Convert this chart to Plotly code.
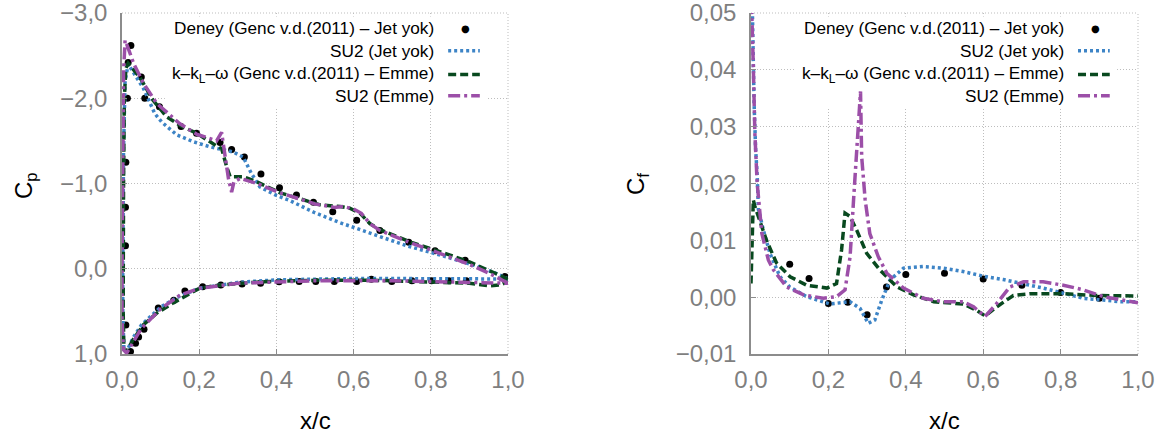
import plotly.graph_objects as go

FONT = "Liberation Sans, Arial, Helvetica, sans-serif"

# ---------------- labels / ticks ----------------
legend_labels = [
    "Deney (Genc v.d.(2011) – Jet yok)",
    "SU2 (Jet yok)",
    "k–k<sub>L</sub>–ω (Genc v.d.(2011) – Emme)",
    "SU2 (Emme)",
]
x_title = "x/c"
cp_title = "C<sub>p</sub>"
cf_title = "C<sub>f</sub>"
x_tick_vals = [0.0, 0.2, 0.4, 0.6, 0.8, 1.0]
cp_tick_vals = [-3, -2, -1, 0, 1]
cf_tick_vals = [-0.01, 0.0, 0.01, 0.02, 0.03, 0.04, 0.05]

# ---------------- Cp data ----------------
cp_exp_x = [0.009, 0.009, 0.010, 0.014, 0.016, 0.023, 0.050, 0.059, 0.097, 0.153,
            0.193, 0.254, 0.284, 0.317, 0.360, 0.408, 0.452, 0.496, 0.546, 0.608,
            0.668, 0.743, 0.811, 0.889, 0.992,
            0.010, 0.022, 0.035, 0.043, 0.057, 0.094, 0.134, 0.163, 0.209, 0.256,
            0.311, 0.359, 0.407, 0.459, 0.502, 0.550, 0.608, 0.646, 0.699, 0.751,
            0.802, 0.847, 0.892]
cp_exp_y = [-0.27, -0.72, -1.25, -2.00, -2.42, -2.62, -2.25, -2.00, -1.90, -1.67,
            -1.59, -1.48, -1.40, -1.31, -1.11, -0.95, -0.865, -0.78, -0.67, -0.57,
            -0.45, -0.31, -0.21, -0.10, 0.09,
            0.66, 0.97, 0.875, 0.80, 0.71, 0.46, 0.37, 0.26, 0.21, 0.19,
            0.18, 0.17, 0.152, 0.15, 0.15, 0.15, 0.15, 0.124, 0.15, 0.14,
            0.14, 0.14, 0.14]

cp_su2_jet_x = [1.0, 0.967, 0.919, 0.833, 0.737, 0.641, 0.565, 0.498, 0.435, 0.4,
                0.357, 0.335, 0.314, 0.288, 0.26, 0.228, 0.185, 0.142, 0.103, 0.085,
                0.055, 0.03, 0.016, 0.008, 0.004, 0.002,
                0.002, 0.005, 0.012, 0.03, 0.05, 0.1, 0.15, 0.2, 0.3, 0.4,
                0.5, 0.6, 0.7, 0.8, 0.9, 1.0]
cp_su2_jet_y = [0.12, 0.05, -0.03, -0.15, -0.27, -0.415, -0.54, -0.66, -0.80, -0.86,
                -0.96, -1.12, -1.31, -1.37, -1.40, -1.43, -1.49, -1.57, -1.72, -1.82,
                -2.12, -2.30, -2.40, -2.2, -1.4, 0.0,
                0.5, 0.95, 0.97, 0.8, 0.66, 0.45, 0.32, 0.23, 0.16, 0.13,
                0.12, 0.115, 0.115, 0.115, 0.12, 0.12]

cp_kkl_x = [1.0, 0.95, 0.9, 0.85, 0.8, 0.75, 0.7, 0.668, 0.642, 0.617,
            0.59, 0.565, 0.513, 0.452, 0.41, 0.349, 0.314, 0.28, 0.271, 0.258,
            0.245, 0.193, 0.155, 0.116, 0.08, 0.047, 0.03, 0.016, 0.010, 0.006,
            0.004, 0.003,
            0.003, 0.005, 0.012, 0.029, 0.055, 0.09, 0.133, 0.2, 0.254, 0.357,
            0.5, 0.65, 0.8, 0.9, 0.95, 0.98, 1.0]
cp_kkl_y = [0.12, 0.02, -0.08, -0.16, -0.23, -0.31, -0.40, -0.46, -0.53, -0.65,
            -0.71, -0.73, -0.75, -0.83, -0.89, -1.02, -1.08, -1.08, -1.20, -1.41,
            -1.44, -1.59, -1.67, -1.78, -1.98, -2.24, -2.33, -2.41, -2.35, -2.0,
            -1.0, 0.0,
            0.5, 0.95, 0.97, 0.83, 0.66, 0.52, 0.40, 0.23, 0.19, 0.155,
            0.135, 0.135, 0.15, 0.17, 0.2, 0.19, 0.15]

cp_su2_emme_x = [1.0, 0.95, 0.9, 0.85, 0.8, 0.75, 0.7, 0.668, 0.642, 0.62,
                 0.6, 0.574, 0.55, 0.5, 0.452, 0.41, 0.35, 0.306, 0.29, 0.284,
                 0.276, 0.27, 0.262, 0.258, 0.245, 0.193, 0.15, 0.09, 0.055, 0.03,
                 0.015, 0.008, 0.004, 0.001, 0.0,
                 0.0, 0.004, 0.012, 0.03, 0.05, 0.1, 0.15, 0.2, 0.3, 0.5,
                 0.7, 0.9, 1.0]
cp_su2_emme_y = [0.17, 0.05, -0.05, -0.14, -0.22, -0.30, -0.39, -0.45, -0.53, -0.65,
                 -0.70, -0.73, -0.72, -0.76, -0.83, -0.89, -1.0, -1.06, -1.02, -0.90,
                 -1.05, -1.25, -1.45, -1.60, -1.50, -1.58, -1.70, -1.94, -2.18, -2.41,
                 -2.6, -2.68, -2.3, -1.0, 0.0,
                 0.6, 0.95, 0.99, 0.86, 0.70, 0.47, 0.31, 0.23, 0.17, 0.14,
                 0.14, 0.16, 0.17]

# ---------------- Cf data ----------------
cf_exp_x = [0.1, 0.15, 0.2, 0.25, 0.3, 0.35, 0.4, 0.5, 0.6, 0.7, 0.8, 0.9]
cf_exp_y = [0.0058, 0.0033, -0.0011, -0.0009, -0.0031, 0.0018, 0.0040, 0.0042,
            0.0032, 0.0021, 0.0008, -0.0002]

cf_su2_jet_x = [0.001, 0.004, 0.008, 0.012, 0.016, 0.019, 0.032, 0.049, 0.075, 0.10,
                0.144, 0.204, 0.256, 0.282, 0.303, 0.32, 0.338, 0.359, 0.394, 0.445,
                0.497, 0.548, 0.60, 0.652, 0.704, 0.755, 0.807, 0.858, 0.91, 0.953, 1.0]
cf_su2_jet_y = [0.06, 0.045, 0.034, 0.026, 0.0215, 0.0155, 0.0118, 0.0077, 0.0036, 0.0018,
                0.0001, -0.0012, -0.0008, -0.002, -0.0046, -0.004, -0.0005, 0.003, 0.0051, 0.0054,
                0.0051, 0.0045, 0.0037, 0.0031, 0.0024, 0.0016, 0.0007, -0.0002, -0.0005, -0.0008,
                -0.0008]

cf_kkl_x = [0.0, 0.003, 0.006, 0.010, 0.019, 0.04, 0.066, 0.101, 0.144, 0.196,
            0.221, 0.234, 0.243, 0.256, 0.273, 0.299, 0.333, 0.377, 0.42, 0.472,
            0.548, 0.583, 0.605, 0.635, 0.678, 0.721, 0.807, 0.893, 1.0]
cf_kkl_y = [0.0024, 0.010, 0.0171, 0.0160, 0.0142, 0.0100, 0.0060, 0.0036, 0.0021, 0.0016,
            0.0024, 0.0083, 0.0148, 0.0142, 0.0118, 0.0077, 0.0048, 0.0018, 0.0004, -0.0008,
            -0.0012, -0.0023, -0.0033, -0.0017, 0.0003, 0.0006, 0.0006, 0.0003, 0.0002]

cf_su2_emme_x = [0.001, 0.002, 0.006, 0.010, 0.016, 0.028, 0.045, 0.058, 0.092, 0.136,
                 0.187, 0.221, 0.243, 0.256, 0.265, 0.272, 0.283, 0.286, 0.295, 0.307,
                 0.329, 0.351, 0.394, 0.445, 0.497, 0.548, 0.575, 0.605, 0.635, 0.669,
                 0.704, 0.755, 0.807, 0.858, 0.91, 1.0]
cf_su2_emme_y = [0.06, 0.05, 0.0406, 0.0288, 0.020, 0.0112, 0.0065, 0.0048, 0.0018, 0.0004,
                 -0.0002, 0.0001, 0.0013, 0.0071, 0.0171, 0.0241, 0.0362, 0.0247, 0.0171, 0.0112,
                 0.0071, 0.0042, 0.0016, -0.0002, -0.0008, -0.0008, -0.0017, -0.0034, -0.0011, 0.0018,
                 0.0027, 0.0027, 0.0021, 0.0013, 0.0001, -0.001]

# ---------------- styles ----------------
C_EXP = "#000000"
C_BLUE = "#3d84c6"
C_GREEN = "#08491f"
C_PURPLE = "#9c4fa8"
DASH_BLUE = "3px,3px"
DASH_GREEN = "8px,4px"
DASH_PURPLE = "12px,4px,3px,4px"
W = 3.5
GRID = "#bdbdbd"
AXIS = "#8c8c8c"
TICKC = "#7f7f7f"

W_PX, H_PX = 1160, 437
L_DOM = [122 / W_PX, 508 / W_PX]
R_DOM = [751 / W_PX, 1138 / W_PX]
Y_DOM = [(H_PX - 354) / H_PX, (H_PX - 13) / H_PX]
CP_RANGE = [1, -3]
CF_RANGE = [-0.01, 0.05]
X_RANGE = [0, 1]

fig = go.Figure()

def add_series(xs, ys, xa, ya, kind):
    if kind == "exp":
        fig.add_trace(go.Scatter(x=xs, y=ys, mode="markers", xaxis=xa, yaxis=ya,
                                 marker=dict(color=C_EXP, size=7), showlegend=False,
                                 hoverinfo="skip"))
    else:
        col, dash = {"blue": (C_BLUE, DASH_BLUE), "green": (C_GREEN, DASH_GREEN),
                     "purple": (C_PURPLE, DASH_PURPLE)}[kind]
        fig.add_trace(go.Scatter(x=xs, y=ys, mode="lines", xaxis=xa, yaxis=ya,
                                 line=dict(color=col, width=W, dash=dash),
                                 showlegend=False, hoverinfo="skip"))

add_series(cp_exp_x, cp_exp_y, "x", "y", "exp")
add_series(cp_su2_jet_x, cp_su2_jet_y, "x", "y", "blue")
add_series(cp_kkl_x, cp_kkl_y, "x", "y", "green")
add_series(cp_su2_emme_x, cp_su2_emme_y, "x", "y", "purple")

add_series(cf_exp_x, cf_exp_y, "x2", "y2", "exp")
add_series(cf_su2_jet_x, cf_su2_jet_y, "x2", "y2", "blue")
add_series(cf_kkl_x, cf_kkl_y, "x2", "y2", "green")
add_series(cf_su2_emme_x, cf_su2_emme_y, "x2", "y2", "purple")

common_axis = dict(showgrid=True, gridcolor=GRID, griddash="1px,2px", gridwidth=1,
                   showline=True, linecolor=AXIS, linewidth=1.5, zeroline=False,
                   ticks="inside", ticklen=5, tickcolor=AXIS, tickwidth=1,
                   ticklabeloverflow="allow", automargin=False,
                   tickfont=dict(family=FONT, size=24, color=TICKC))

fig.update_layout(
    width=W_PX, height=H_PX,
    margin=dict(l=0, r=0, t=0, b=0, autoexpand=False),
    paper_bgcolor="white", plot_bgcolor="white",
    separators=",.",
    showlegend=False,
    xaxis=dict(domain=L_DOM, range=X_RANGE, tickvals=x_tick_vals, tickformat=".1f",
               anchor="y", ticklabelstandoff=3, **common_axis),
    yaxis=dict(domain=Y_DOM, range=CP_RANGE, tickvals=cp_tick_vals, tickformat=".1f",
               anchor="x", ticklabelstandoff=8, **common_axis),
    xaxis2=dict(domain=R_DOM, range=X_RANGE, tickvals=x_tick_vals, tickformat=".1f",
                anchor="y2", ticklabelstandoff=3, **common_axis),
    yaxis2=dict(domain=Y_DOM, range=CF_RANGE, tickvals=cf_tick_vals, tickformat=".2f",
                anchor="x2", ticklabelstandoff=8, **common_axis),
)

def frac_to_data(rng, f):
    return rng[0] + (rng[1] - rng[0]) * f

shapes = []
annotations = []
rows = [0.956, 0.889, 0.82, 0.757]
samples = [None, (C_BLUE, DASH_BLUE), (C_GREEN, DASH_GREEN), (C_PURPLE, DASH_PURPLE)]
for xa, ya, yrng in (("x", "y", CP_RANGE), ("x2", "y2", CF_RANGE)):
    xr, yr = xa + " domain", ya + " domain"
    # dotted top / right frame
    shapes.append(dict(type="line", xref=xr, yref=yr, x0=0, x1=1, y0=1, y1=1,
                       line=dict(color=GRID, width=1, dash="1px,2px"), layer="below"))
    shapes.append(dict(type="line", xref=xr, yref=yr, x0=1, x1=1, y0=0, y1=1,
                       line=dict(color=GRID, width=1, dash="1px,2px"), layer="below"))
    # opaque key box (between grid and data)
    shapes.append(dict(type="rect", xref=xa, yref=ya,
                       x0=frac_to_data(X_RANGE, 0.111), x1=frac_to_data(X_RANGE, 0.946),
                       y0=frac_to_data(yrng, 0.724), y1=frac_to_data(yrng, 0.99),
                       fillcolor="white", line=dict(width=0), layer="between"))
    for i, lab in enumerate(legend_labels):
        annotations.append(dict(text=lab, xref=xr, yref=yr, x=0.813, y=rows[i],
                                xanchor="right", yanchor="middle", showarrow=False,
                                font=dict(family=FONT, size=17.2, color="black")))
        if samples[i] is None:
            annotations.append(dict(text="●", xref=xr, yref=yr, x=0.89, y=rows[i],
                                    xanchor="center", yanchor="middle", showarrow=False,
                                    font=dict(family="DejaVu Sans", size=10, color="black")))
        else:
            col, dash = samples[i]
            shapes.append(dict(type="line", xref=xr, yref=yr, x0=0.845, x1=0.927,
                               y0=rows[i], y1=rows[i],
                               line=dict(color=col, width=W, dash=dash), layer="above"))

# axis titles
annotations.append(dict(text=x_title, xref="paper", yref="paper", x=315 / W_PX, y=(H_PX - 420) / H_PX,
                        xanchor="center", yanchor="middle", showarrow=False,
                        font=dict(family=FONT, size=24, color="black")))
annotations.append(dict(text=x_title, xref="paper", yref="paper", x=944 / W_PX, y=(H_PX - 420) / H_PX,
                        xanchor="center", yanchor="middle", showarrow=False,
                        font=dict(family=FONT, size=24, color="black")))
annotations.append(dict(text=cp_title, xref="paper", yref="paper", x=26 / W_PX, y=(H_PX - 186) / H_PX,
                        xanchor="center", yanchor="middle", showarrow=False, textangle=-90,
                        font=dict(family=FONT, size=24, color="black")))
annotations.append(dict(text=cf_title, xref="paper", yref="paper", x=637 / W_PX, y=(H_PX - 184) / H_PX,
                        xanchor="center", yanchor="middle", showarrow=False, textangle=-90,
                        font=dict(family=FONT, size=24, color="black")))

fig.update_layout(shapes=shapes, annotations=annotations)
fig.write_html("out.html", config={"displayModeBar": False},
               post_script="document.body.style.margin='0';document.body.style.overflow='hidden';")
